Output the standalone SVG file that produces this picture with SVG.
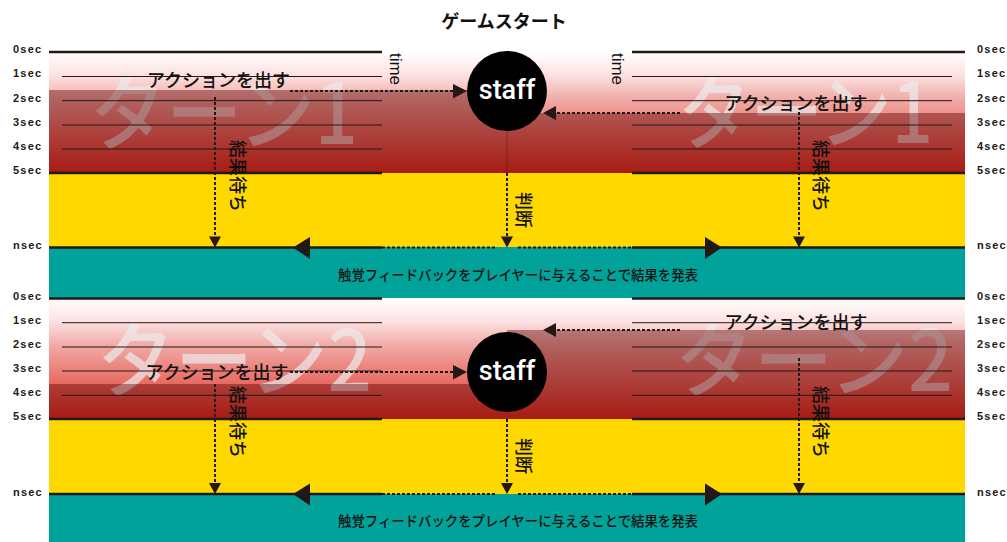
<svg xmlns="http://www.w3.org/2000/svg" width="1007" height="542" viewBox="0 0 1007 542">
<defs>
<linearGradient id="band" x1="0" y1="0" x2="0" y2="1">
<stop offset="0" stop-color="#ffffff"/>
<stop offset="0.2" stop-color="#fbe0df"/>
<stop offset="0.4" stop-color="#f0a8a4"/>
<stop offset="1" stop-color="#df3022"/>
</linearGradient>
</defs>
<style>
.lbl{font-family:"Liberation Sans",Arial,sans-serif;font-size:11px;font-weight:bold;letter-spacing:1.2px;fill:#231815;dominant-baseline:central}
.jp{font-family:"Noto Sans CJK JP",sans-serif;fill:#111;font-weight:500;dominant-baseline:central}
.act{font-size:18px;text-anchor:middle}
.vt{font-size:18px;text-anchor:middle}
.wm{font-family:"Noto Sans CJK JP",sans-serif;font-size:84px;font-weight:500;fill:#ececec;opacity:0.7;dominant-baseline:central}
.ov{fill:#5a0000;opacity:0.42}
.thick{stroke:#231815;stroke-width:2.5;fill:none}
.thin{stroke:#231815;stroke-width:1;fill:none}
.dash{stroke:#231815;stroke-width:2;stroke-dasharray:3 2;fill:none}
.tri{fill:#231815}
.time{font-family:"Liberation Sans",Arial,sans-serif;font-size:17px;fill:#111;text-anchor:middle;dominant-baseline:central}
.staff{font-family:Roboto,"Liberation Sans",sans-serif;font-size:27px;font-weight:500;fill:#fff;text-anchor:middle;dominant-baseline:central}
</style>
<rect width="1007" height="542" fill="#fff"/>
<text x="504" y="20" class="jp" style="font-size:18px;font-weight:bold;text-anchor:middle">ゲームスタート</text>

<g id="bands">
<rect x="49" y="52" width="916" height="121" fill="url(#band)"/>
<rect x="49" y="173" width="916" height="74" fill="#ffd800"/>
<rect x="49" y="247" width="916" height="51" fill="#00a29a"/>
<rect x="49" y="298" width="916" height="121" fill="url(#band)"/>
<rect x="49" y="419" width="916" height="75" fill="#ffd800"/>
<rect x="49" y="494" width="916" height="48" fill="#00a29a"/>
</g>

<g id="watermarks">
<text class="wm" x="90" y="107.5" textLength="268" lengthAdjust="spacingAndGlyphs">ターン1</text>
<text class="wm" x="678" y="106" textLength="255" lengthAdjust="spacingAndGlyphs">ターン1</text>
<text class="wm" x="97" y="354" textLength="275" lengthAdjust="spacingAndGlyphs">ターン2</text>
<text class="wm" x="675" y="354" textLength="278" lengthAdjust="spacingAndGlyphs">ターン2</text>
</g>

<g id="overlays">
<rect class="ov" x="49" y="90" width="458" height="83"/>
<rect class="ov" x="507" y="113" width="458" height="60"/>
<rect class="ov" x="49" y="384" width="458" height="35"/>
<rect class="ov" x="507" y="330" width="458" height="89"/>
</g>

<g id="timelines">
<path class="thick" d="M49,52H382M632,52H965M49,173H382M632,173H965M49,247.5H382M632,247.5H965"/>
<path class="thin" d="M62,76.5H382M62,100.7H382M62,125H382M62,149H382M632,76.5H952M632,100.7H952M632,125H952M632,149H952"/>
<path class="thick" d="M49,298.5H382M632,298.5H965M49,419H382M632,419H965M49,494H382M632,494H965"/>
<path class="thin" d="M62,322.7H382M62,347H382M62,371H382M62,395.3H382M632,322.7H952M632,347H952M632,371H952M632,395.3H952"/>
</g>

<g id="labels">
<text class="lbl" x="13" y="49">0sec</text>
<text class="lbl" x="13" y="73">1sec</text>
<text class="lbl" x="13" y="97.7">2sec</text>
<text class="lbl" x="13" y="122">3sec</text>
<text class="lbl" x="13" y="146">4sec</text>
<text class="lbl" x="13" y="170">5sec</text>
<text class="lbl" x="13" y="244.7">nsec</text>
<text class="lbl" x="13" y="295.7">0sec</text>
<text class="lbl" x="13" y="320">1sec</text>
<text class="lbl" x="13" y="343.7">2sec</text>
<text class="lbl" x="13" y="368">3sec</text>
<text class="lbl" x="13" y="392">4sec</text>
<text class="lbl" x="13" y="416">5sec</text>
<text class="lbl" x="13" y="491.7">nsec</text>
<text class="lbl" x="977" y="49">0sec</text>
<text class="lbl" x="977" y="73">1sec</text>
<text class="lbl" x="977" y="97.7">2sec</text>
<text class="lbl" x="977" y="122">3sec</text>
<text class="lbl" x="977" y="146">4sec</text>
<text class="lbl" x="977" y="170">5sec</text>
<text class="lbl" x="977" y="244.7">nsec</text>
<text class="lbl" x="977" y="295.7">0sec</text>
<text class="lbl" x="977" y="320">1sec</text>
<text class="lbl" x="977" y="343.7">2sec</text>
<text class="lbl" x="977" y="368">3sec</text>
<text class="lbl" x="977" y="392">4sec</text>
<text class="lbl" x="977" y="416">5sec</text>
<text class="lbl" x="977" y="491.7">nsec</text>
<text class="time" transform="translate(395,69) rotate(90)">time</text>
<text class="time" transform="translate(617,69) rotate(90)">time</text>
</g>

<g id="connectors">
<path class="dash" d="M290,91H454"/>
<polygon class="tri" points="453,84 467,91 453,98.5"/>
<path class="dash" d="M680,113H555"/>
<polygon class="tri" points="556,106 543,113 556,120"/>
<path class="dash" d="M215,97V237"/>
<polygon class="tri" points="209,236.5 221,236.5 215,247.5"/>
<path class="dash" d="M799,112V237"/>
<polygon class="tri" points="793,236.5 805,236.5 799,247.5"/>
<path d="M507,131V173" stroke="#231815" stroke-width="1" opacity="0.35"/>
<path class="dash" d="M507,173V237"/>
<polygon class="tri" points="501,236.5 513,236.5 507,247.5"/>
<path class="dash" d="M382,247.5H496M518,247.5H632"/>
<polygon class="tri" points="293,247.5 310,237 310,259"/>
<polygon class="tri" points="722,247.5 705,237 705,259"/>
<path class="dash" d="M290,372H454"/>
<polygon class="tri" points="453,365 467,372 453,379.5"/>
<path class="dash" d="M680,330H555"/>
<polygon class="tri" points="556,323 543,330 556,337"/>
<path class="dash" d="M215,384V484"/>
<polygon class="tri" points="209,483 221,483 215,494"/>
<path class="dash" d="M799,358V484"/>
<polygon class="tri" points="793,483 805,483 799,494"/>
<path class="dash" d="M507,419V484"/>
<polygon class="tri" points="501,483 513,483 507,494"/>
<path class="dash" d="M382,494H496M518,494H632"/>
<polygon class="tri" points="293,494 310,483.5 310,505.5"/>
<polygon class="tri" points="722,494 705,483.5 705,505.5"/>
</g>

<g id="staff1">
<circle cx="507" cy="91" r="40" fill="#000"/>
<text class="staff" x="507" y="90">staff</text>
</g>
<g id="staff2">
<circle cx="507" cy="372" r="40" fill="#000"/>
<text class="staff" x="507" y="371">staff</text>
</g>

<g id="texts">
<text class="jp act" x="218.5" y="79">アクションを出す</text>
<text class="jp act" x="796" y="102">アクションを出す</text>
<text class="jp act" x="217" y="371">アクションを出す</text>
<text class="jp act" x="796" y="321">アクションを出す</text>
<text class="jp vt" transform="translate(239,176) rotate(90)">結果待ち</text>
<text class="jp vt" transform="translate(822,176) rotate(90)">結果待ち</text>
<text class="jp vt" transform="translate(239,422) rotate(90)">結果待ち</text>
<text class="jp vt" transform="translate(822,422) rotate(90)">結果待ち</text>
<text class="jp vt" transform="translate(524.5,210) rotate(90)">判断</text>
<text class="jp vt" transform="translate(524.5,456) rotate(90)">判断</text>
<text class="jp" x="338" y="274" textLength="360" lengthAdjust="spacingAndGlyphs" style="font-size:14px">触覚フィードバックをプレイヤーに与えることで結果を発表</text>
<text class="jp" x="338" y="520" textLength="360" lengthAdjust="spacingAndGlyphs" style="font-size:14px">触覚フィードバックをプレイヤーに与えることで結果を発表</text>
</g>
</svg>
